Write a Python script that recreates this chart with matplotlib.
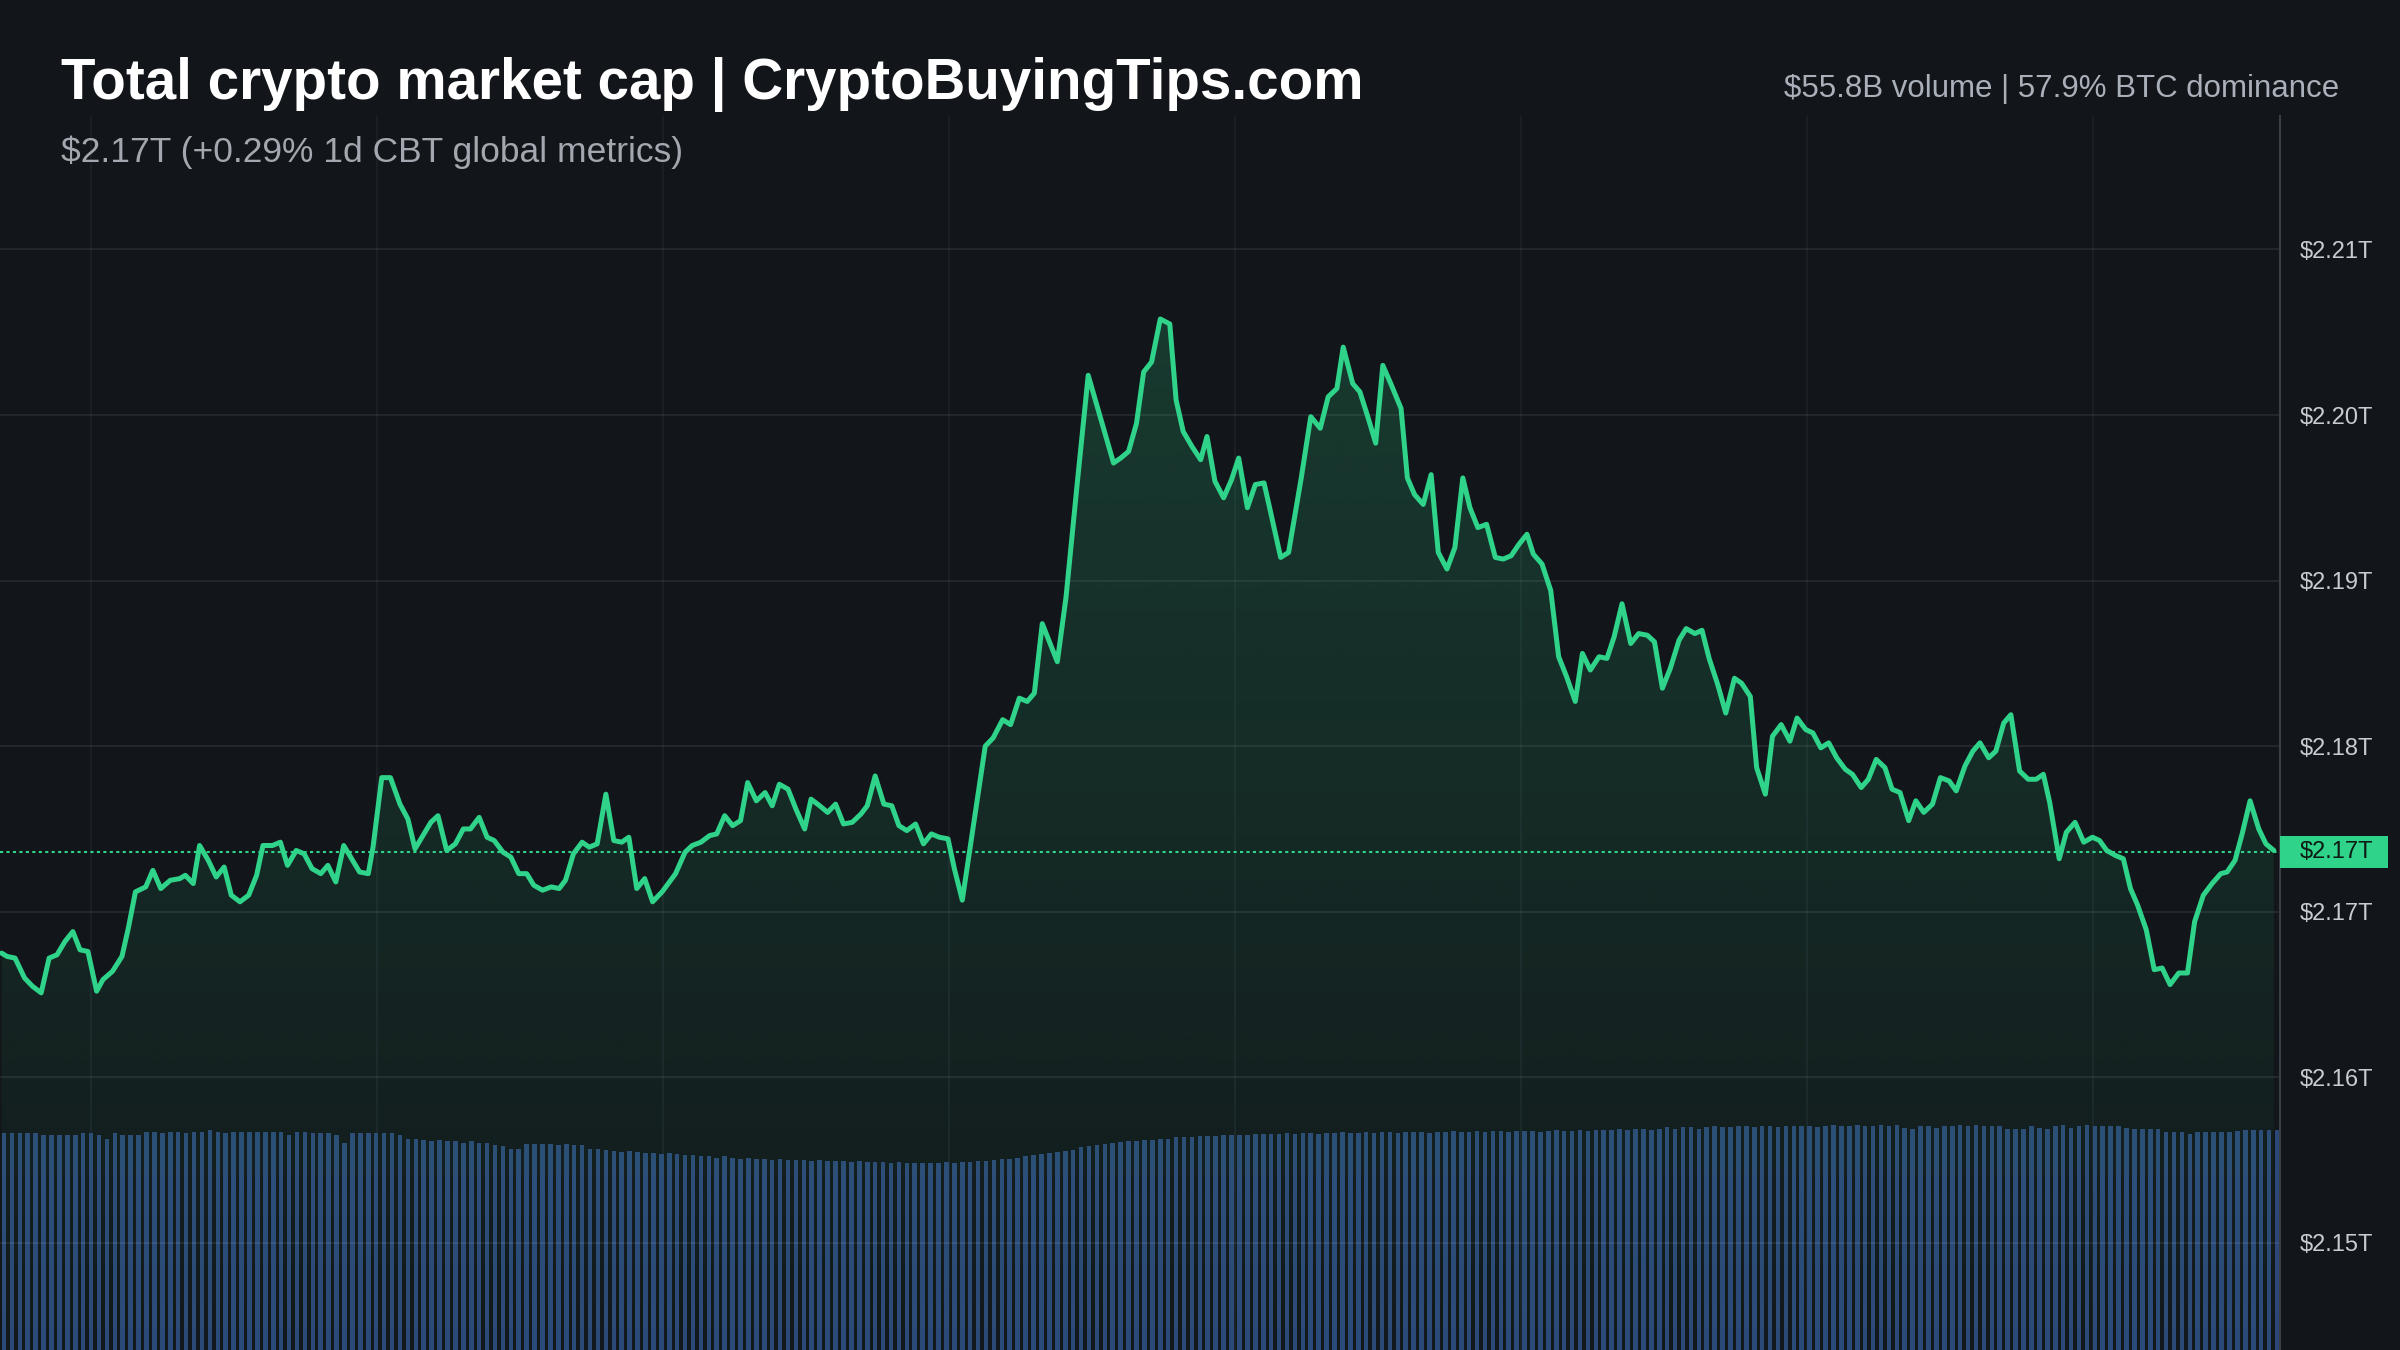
import numpy as np
import matplotlib
matplotlib.use("Agg")
import matplotlib.pyplot as plt
from matplotlib.patches import Rectangle
from matplotlib.colors import to_rgb
from matplotlib.transforms import blended_transform_factory

# ---------------- data ----------------
title = "Total crypto market cap | CryptoBuyingTips.com"
subtitle = "$2.17T (+0.29% 1d CBT global metrics)"
stats = "$55.8B volume | 57.9% BTC dominance"
current_price = 2.1736          # $T
price_ticks = [2.15, 2.16, 2.17, 2.18, 2.19, 2.20, 2.21]
time_grid = [11.5, 47.6, 83.7, 119.8, 155.9, 192.0, 228.2, 264.3]  # 3-hour marks (5-min steps)

# market cap ($T) vs. time (5-minute steps over 24h)
t_seg1 = [0.2, 0.9, 1.9, 3.1, 4.1, 5.2, 6.2, 7.2, 8.2, 9.2, 10.1, 11.1, 12.2, 13.0, 14.2,
          15.4, 16.2, 17.1, 18.4, 19.3, 20.3, 21.5, 22.7, 23.4, 24.4, 25.2, 26.3, 27.3, 28.3,
          29.2, 30.3, 31.4, 32.4, 33.2, 34.4, 35.4, 36.3, 37.4, 38.4, 39.4, 40.5, 41.4, 42.4,
          43.4, 44.4, 45.4, 46.5, 47.1, 48.2, 49.3, 50.5, 51.5, 52.4, 53.4, 54.4, 55.3, 56.4,
          57.5, 58.5, 59.4, 60.5, 61.5, 62.4, 63.5, 64.5, 65.5, 66.5, 67.4, 68.5, 69.6, 70.6,
          71.4, 72.4, 73.5, 74.4, 75.4]
cap_seg1 = [2.1675, 2.1673, 2.1672, 2.1660, 2.1655, 2.1651, 2.1672, 2.1674, 2.1682, 2.1688,
            2.1677, 2.1676, 2.1652, 2.1659, 2.1664, 2.1673, 2.1690, 2.1712, 2.1715, 2.1725,
            2.1714, 2.1719, 2.1720, 2.1722, 2.1717, 2.1740, 2.1731, 2.1721, 2.1727, 2.1710,
            2.1706, 2.1710, 2.1722, 2.1740, 2.1740, 2.1742, 2.1728, 2.1737, 2.1735, 2.1726,
            2.1723, 2.1728, 2.1718, 2.1740, 2.1732, 2.1724, 2.1723, 2.1739, 2.1781, 2.1781,
            2.1765, 2.1756, 2.1738, 2.1746, 2.1754, 2.1758, 2.1737, 2.1741, 2.1750, 2.1750,
            2.1757, 2.1745, 2.1743, 2.1736, 2.1733, 2.1723, 2.1723, 2.1716, 2.1713, 2.1715,
            2.1714, 2.1719, 2.1735, 2.1742, 2.1739, 2.1741]

t_seg2 = [76.5, 77.5, 78.5, 79.4, 80.4, 81.4, 82.4, 83.6, 85.3, 86.5, 87.4, 88.5, 89.6, 90.5,
          91.5, 92.5, 93.5, 94.4, 95.5, 96.6, 97.5, 98.4, 99.5, 100.5, 101.6, 102.4, 103.5,
          104.5, 105.5, 106.5, 107.6, 108.7, 109.5, 110.5, 111.6, 112.6, 113.5, 114.5, 115.6,
          116.6, 117.6, 118.6, 119.7, 120.5, 121.5]
cap_seg2 = [2.1771, 2.1743, 2.1742, 2.1745, 2.1714, 2.1720, 2.1706, 2.1712, 2.1723, 2.1736,
            2.1740, 2.1742, 2.1746, 2.1747, 2.1758, 2.1752, 2.1755, 2.1778, 2.1767, 2.1772,
            2.1764, 2.1777, 2.1774, 2.1762, 2.1750, 2.1768, 2.1764, 2.1760, 2.1765, 2.1753,
            2.1754, 2.1759, 2.1764, 2.1782, 2.1765, 2.1764, 2.1752, 2.1749, 2.1753, 2.1741,
            2.1747, 2.1745, 2.1744, 2.1726, 2.1707]

t_seg3 = [124.4, 125.4, 126.6, 127.6, 128.7, 129.7, 130.6, 131.6, 133.5, 134.6, 136.0, 137.4]
cap_seg3 = [2.1800, 2.1805, 2.1816, 2.1813, 2.1829, 2.1827, 2.1832, 2.1874, 2.1851, 2.1890,
            2.1958, 2.2024]

t_seg4 = [140.6, 141.5, 142.5, 143.5, 144.4, 145.4, 146.5, 147.7, 148.5, 149.4, 150.5, 151.6,
          152.4, 153.4, 154.5, 155.5, 156.4, 157.5, 158.5, 159.6, 160.4, 161.7, 162.7, 164.3,
          165.5, 166.7, 167.7, 168.8, 169.6, 170.8, 171.7, 172.7, 173.7, 174.6, 175.6, 176.9,
          177.7, 178.6, 179.7, 180.7, 181.6, 182.7, 183.7, 184.7, 185.6, 186.6, 187.7, 188.8,
          189.8, 190.8, 191.8, 192.8, 193.6, 194.7, 195.8, 196.8, 197.8, 198.9, 199.8, 200.8,
          201.9, 202.9, 203.8, 204.8]
cap_seg4 = [2.1971, 2.1974, 2.1978, 2.1995, 2.2026, 2.2032, 2.2058, 2.2055, 2.2009, 2.1990,
            2.1981, 2.1973, 2.1987, 2.1960, 2.1950, 2.1961, 2.1974, 2.1944, 2.1958, 2.1959,
            2.1942, 2.1914, 2.1917, 2.1962, 2.1999, 2.1992, 2.2011, 2.2016, 2.2041, 2.2019,
            2.2014, 2.1999, 2.1983, 2.2030, 2.2019, 2.2004, 2.1962, 2.1952, 2.1946, 2.1964,
            2.1917, 2.1907, 2.1920, 2.1962, 2.1944, 2.1932, 2.1934, 2.1914, 2.1913, 2.1915,
            2.1922, 2.1928, 2.1916, 2.1910, 2.1894, 2.1854, 2.1842, 2.1827, 2.1856, 2.1846,
            2.1854, 2.1853, 2.1866, 2.1886]

t_seg5 = [205.9, 206.9, 208.0, 208.9, 209.9, 210.9, 212.0, 212.9, 214.0, 214.9,
          215.8, 216.9, 217.9, 219.0, 219.9, 221.0, 221.8, 222.9, 223.8, 224.9,
          226.0, 226.9, 228.0, 228.9, 229.9, 230.9, 231.9, 233.0, 233.9, 235.0,
          235.9, 236.9, 238.0, 238.9, 239.9, 241.0, 241.9, 242.9, 244.0, 245.0,
          246.1, 247.0, 248.1, 249.1, 250.0, 251.1, 252.0, 253.0, 253.9, 255.0,
          256.1, 257.1, 258.0, 258.8, 260.0, 260.9, 262.0, 263.1, 264.2, 265.1,
          266.0, 267.1, 268.1, 269.0, 269.9, 271.0, 272.0, 273.0, 274.0, 275.1,
          276.2, 277.1, 278.2, 279.3, 280.4, 281.2, 282.2, 283.1, 284.1, 285.2,
          286.1, 287.1]
cap_seg5 = [2.1862, 2.1868, 2.1867, 2.1863, 2.1835, 2.1847, 2.1864, 2.1871, 2.1868, 2.1870,
            2.1853, 2.1837, 2.1820, 2.1841, 2.1838, 2.1830, 2.1787, 2.1771, 2.1806, 2.1813,
            2.1803, 2.1817, 2.1810, 2.1808, 2.1799, 2.1802, 2.1793, 2.1786, 2.1783, 2.1775,
            2.1780, 2.1792, 2.1787, 2.1774, 2.1772, 2.1755, 2.1767, 2.1760, 2.1765, 2.1781,
            2.1779, 2.1773, 2.1788, 2.1797, 2.1802, 2.1793, 2.1797, 2.1814, 2.1819, 2.1785,
            2.1780, 2.1780, 2.1783, 2.1766, 2.1732, 2.1748, 2.1754, 2.1742, 2.1745, 2.1743,
            2.1737, 2.1734, 2.1732, 2.1714, 2.1704, 2.1689, 2.1665, 2.1666, 2.1656, 2.1663,
            2.1663, 2.1694, 2.1710, 2.1717, 2.1723, 2.1724, 2.1731, 2.1747, 2.1767, 2.1750,
            2.1741, 2.1737]

# 5-minute volume ($M), one bar per step
volume = [
    195, 195, 195, 195, 195, 193, 193, 193, 193, 193, 195, 195, 193, 190, 195, 193, 193, 193,
    196, 196, 195, 196, 196, 195, 196, 196, 198, 196, 195, 196, 196, 196, 196, 196, 196, 196,
    193, 196, 196, 195, 195, 195, 193, 186, 195, 195, 195, 195, 195, 195, 193, 190, 190, 189,
    188, 189, 188, 188, 186, 188, 186, 186, 184, 183, 181, 181, 185, 185, 185, 185, 184, 185,
    184, 184, 181, 181,
    180, 179, 178, 179, 178, 177, 177, 176, 177, 176, 175, 175,
    174, 174, 173, 174, 173, 172, 173, 172, 172, 171, 172, 171, 171, 171, 170, 171, 170, 170,
    170, 169, 170, 169, 169, 169, 168, 169, 168, 168,
    168, 168, 168, 169, 168, 169, 169, 170, 170, 171,
    172, 172, 173, 174, 175, 176, 177, 178, 179, 180, 182, 183, 184, 185, 186,
    187, 188, 188, 189, 189, 190, 190, 191, 191, 191, 192, 192, 192, 193, 193, 193, 193, 194,
    194, 194,
    194, 195, 194, 195, 195, 194, 195, 195, 196, 195, 195, 196, 195, 196, 196, 195, 196, 196,
    196, 195, 196, 196, 197, 196, 196, 197, 196, 197, 197, 196, 197, 197, 197, 196, 197, 198,
    197, 197, 198, 197,
    198, 198, 198, 199, 198, 199, 199, 198, 199, 200, 199, 200, 200, 199, 200, 201, 200, 200,
    201, 201, 200, 201, 201, 200, 201, 201,
    201, 201, 200, 201, 202, 201, 201, 202, 201, 201, 202, 201,
    202.5, 199.5, 198.6, 201, 201, 199.5, 201, 201, 202.5, 201, 202.5, 201, 201, 201, 198.6,
    198.6, 198.6, 201, 199.5, 198.6, 201, 202.5, 199.5, 201, 202.5, 201, 201, 201, 201, 199.5,
    198.6, 198.6, 198.6, 198.6, 195.6, 195.6, 195.6, 194.4, 195.6, 195.6, 195.6, 195.6, 195.6,
    196.5, 198, 198, 198, 198, 198]

# ---------------- style ----------------
BG = "#121519"
GREEN = "#2fd38a"
BAR = "#2c4878"
VGRID = "#1c2026"
TXT_GRAY = "#a3a8b0"
FONT = "Liberation Sans"

t = np.array(t_seg1 + t_seg2 + t_seg3 + t_seg4 + t_seg5)
cap = np.array(cap_seg1 + cap_seg2 + cap_seg3 + cap_seg4 + cap_seg5)
n = min(len(t), len(cap))
t, cap = t[:n], cap[:n]

XMAX = 287.88
YLIM = (2.14353, 2.21806)
VOL_MAX = 1109  # volume pane scale

fig = plt.figure(figsize=(24, 13.5), dpi=100)
fig.patch.set_facecolor(BG)
rect = [0.0, 0.0, 0.95, 1 - 116 / 1350]

# volume axes (below)
axv = fig.add_axes(rect, zorder=1)
axv.set_facecolor(BG)
for x in time_grid:
    axv.axvline(x, color=VGRID, lw=1.4, zorder=0.5)
xv = np.arange(len(volume)) + 0.5
axv.bar(xv, volume, width=0.58, color=BAR, linewidth=0, zorder=2)
axv.set_xlim(0, XMAX)
axv.set_ylim(0, VOL_MAX)
axv.set_xticks([]); axv.set_yticks([])
for s in axv.spines.values():
    s.set_visible(False)

# price axes (above)
ax = fig.add_axes(rect, zorder=2)
ax.patch.set_visible(False)
ax.set_xlim(0, XMAX)
ax.set_ylim(*YLIM)

for y in price_ticks:
    ax.axhline(y, color="white", alpha=0.075, lw=1.4, zorder=0.5)

# gradient fill under line
poly = ax.fill_between(t, cap, YLIM[0], facecolor="none", edgecolor="none")
grad = np.zeros((256, 1, 4))
grad[..., :3] = to_rgb(GREEN)
grad[:, 0, 3] = np.linspace(0.20, 0.02, 256)
im = ax.imshow(grad, extent=[0, XMAX, YLIM[0], cap.max()], origin="upper",
               aspect="auto", zorder=1, interpolation="bilinear")
im.set_clip_path(poly.get_paths()[0], transform=ax.transData)

ax.plot(t, cap, color=GREEN, lw=3.6, solid_joinstyle="round", solid_capstyle="round", zorder=3)
ax.axhline(current_price, color=GREEN, lw=1.5, ls=(0, (1.5, 1.6)), zorder=2.5)
ax.set_xlim(0, XMAX)
ax.set_ylim(*YLIM)

# axes styling
ax.set_xticks([])
ax.yaxis.tick_right()
ax.set_yticks(price_ticks)
ax.set_yticklabels([f"${v:.2f}T" for v in price_ticks], fontsize=17, color="#c8cbd0",
                   family=FONT)
ax.tick_params(axis="y", length=0, pad=14.4)
for k, s in ax.spines.items():
    s.set_visible(k == "right")
ax.spines["right"].set_color("#3a3f46")
ax.spines["right"].set_linewidth(1.5)

# current price tag
tr = blended_transform_factory(ax.transAxes, ax.transData)
box_h = 0.00097
ax.add_patch(Rectangle((1.0, current_price - box_h), 108 / 2280, 2 * box_h, transform=tr,
                       facecolor=GREEN, edgecolor="none", clip_on=False, zorder=5))
ax.text(1.0 + 20 / 2280, current_price, f"${current_price:.2f}T", transform=tr,
        ha="left", va="center", fontsize=17, color="#0e1a13", family=FONT,
        clip_on=False, zorder=6)

# header texts
fig.text(61 / 2400, 1 - 99.3 / 1350, title, fontsize=40.7, fontweight="bold",
         color="white", family=FONT, va="baseline", ha="left")
fig.text(61 / 2400, 1 - 161.7 / 1350, subtitle, fontsize=25.5, color=TXT_GRAY,
         family=FONT, va="baseline", ha="left")
fig.text(2339 / 2400, 1 - 96.7 / 1350, stats, fontsize=22.5, color="#aab0b9",
         family=FONT, va="baseline", ha="right")

fig.savefig("out.png", dpi=100, facecolor=BG)
